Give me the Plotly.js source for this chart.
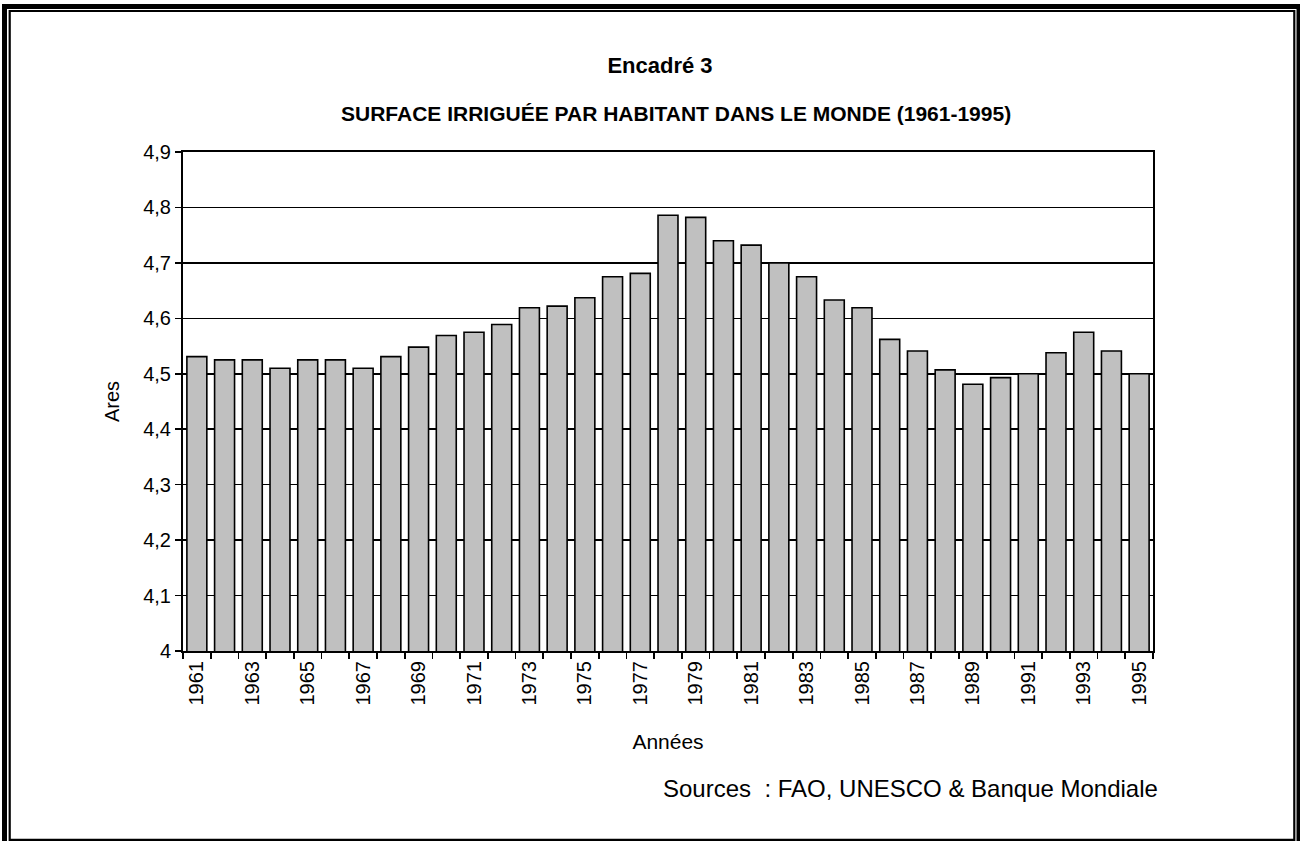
<!DOCTYPE html>
<html>
<head>
<meta charset="utf-8">
<script src="https://cdn.plot.ly/plotly-3.0.1.min.js"></script>
<style>
  html, body { margin: 0; padding: 0; background: #ffffff; }
  #chart { width: 1300px; height: 841px; }
</style>
</head>
<body>
<div id="chart"></div>
<script>
// ---- Data ----
const years = [1961,1962,1963,1964,1965,1966,1967,1968,1969,1970,
               1971,1972,1973,1974,1975,1976,1977,1978,1979,1980,
               1981,1982,1983,1984,1985,1986,1987,1988,1989,1990,
               1991,1992,1993,1994,1995];
const ares = [4.531,4.525,4.525,4.510,4.525,4.525,4.510,4.531,4.548,4.569,
              4.575,4.589,4.619,4.622,4.637,4.675,4.681,4.786,4.782,4.740,
              4.732,4.700,4.675,4.633,4.619,4.562,4.541,4.507,4.481,4.493,
              4.500,4.538,4.575,4.541,4.500];
const labelYears = [1961,1963,1965,1967,1969,1971,1973,1975,1977,1979,
                    1981,1983,1985,1987,1989,1991,1993,1995];
const labelText = labelYears.map(String);

const FONT = '"Liberation Sans", Arial, sans-serif';

// layout geometry (pixels)
const W = 1300, H = 841;
const L = 183, R = 1153, T = 152, B = 651;
const px = x => (x - L) / (R - L);
const py = y => (B - y) / (B - T);

const trace = {
  type: 'bar',
  x: years,
  y: ares,
  width: 0.72,
  marker: { color: '#c0c0c0', line: { color: '#000000', width: 1.6 } },
  hoverinfo: 'x+y'
};

const layout = {
  width: W, height: H,
  margin: { l: L, r: W - R, t: T, b: H - B, pad: 0 },
  paper_bgcolor: '#ffffff',
  plot_bgcolor: '#ffffff',
  separators: ', ',
  showlegend: false,
  font: { family: FONT, color: '#000000', size: 20 },
  title: {
    text: '<b>Encadré 3</b>',
    font: { family: FONT, size: 22, color: '#000000' },
    x: px(660), xref: 'paper', xanchor: 'center',
    y: 1 - 65 / H, yref: 'container', yanchor: 'middle'
  },
  xaxis: {
    range: [1960.5, 1995.5],
    tickmode: 'array', tickvals: labelYears, ticktext: labelText,
    tickangle: -90,
    ticks: '',
    tickfont: { family: FONT, size: 20, color: '#000000' },
    minor: { tick0: 1960.5, dtick: 1, ticks: 'outside', ticklen: 6, tickwidth: 1.6, tickcolor: '#000000', showgrid: false },
    showgrid: false, zeroline: false,
    showline: true, linecolor: '#000000', linewidth: 2, mirror: true,
    title: { text: 'Années', font: { family: FONT, size: 21, color: '#000000' }, standoff: 30 },
    fixedrange: true
  },
  yaxis: {
    range: [4, 4.9],
    tick0: 4, dtick: 0.1,
    ticks: 'outside', ticklen: 6, tickwidth: 1.6, tickcolor: '#000000',
    tickfont: { family: FONT, size: 20, color: '#000000' },
    showgrid: true, gridcolor: '#000000', gridwidth: 1.6,
    zeroline: false,
    showline: true, linecolor: '#000000', linewidth: 2, mirror: true,
    fixedrange: true
  },
  annotations: [
    {
      text: '<b>SURFACE IRRIGUÉE PAR HABITANT DANS LE MONDE (1961-1995)</b>',
      xref: 'paper', yref: 'paper', x: px(676), y: py(113),
      xanchor: 'center', yanchor: 'middle', showarrow: false,
      font: { family: FONT, size: 21, color: '#000000' }
    },
    {
      text: 'Ares',
      xref: 'paper', yref: 'paper', x: px(112), y: py(402),
      xanchor: 'center', yanchor: 'middle', showarrow: false, textangle: -90,
      font: { family: FONT, size: 20, color: '#000000' }
    },
    {
      text: 'Sources  : FAO, UNESCO &amp; Banque Mondiale',
      xref: 'paper', yref: 'paper', x: px(1160), y: py(788),
      xanchor: 'right', yanchor: 'middle', showarrow: false,
      font: { family: FONT, size: 24, color: '#000000' }
    }
  ],
  shapes: [
    // outer thick frame
    { type: 'rect', xref: 'paper', yref: 'paper', layer: 'above',
      x0: px(4.5), x1: px(1299), y0: py(6.5), y1: py(860),
      line: { color: '#000000', width: 5 }, fillcolor: 'rgba(0,0,0,0)' },
    // inner thin frame
    { type: 'rect', xref: 'paper', yref: 'paper', layer: 'above',
      x0: px(9.7), x1: px(1294.3), y0: py(11), y1: py(839.8),
      line: { color: '#000000', width: 2.2 }, fillcolor: 'rgba(0,0,0,0)' }
  ]
};

Plotly.newPlot('chart', [trace], layout, { displayModeBar: false, staticPlot: true });
</script>
</body>
</html>
